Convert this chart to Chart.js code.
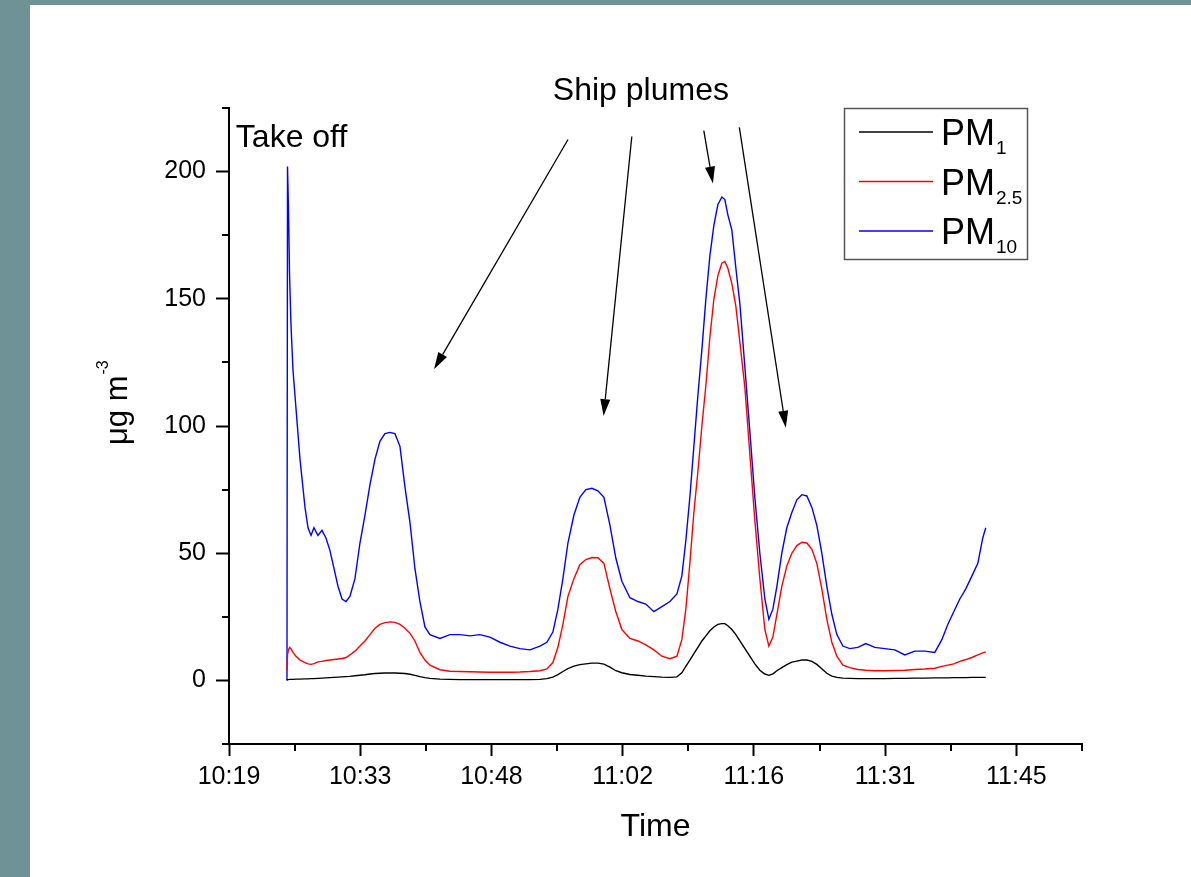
<!DOCTYPE html>
<html>
<head>
<meta charset="utf-8">
<script src="https://cdn.jsdelivr.net/npm/chart.js@4"></script>
<style>
  html, body { margin: 0; padding: 0; background: #6f9296; overflow: hidden; }
  #wrap { position: absolute; left: 30px; top: 5px; width: 1161px; height: 872px; background: #fff; }
</style>
</head>
<body>
<div id="wrap"><canvas id="pmChart" width="1161" height="872"></canvas></div>
<script>
// time in minutes after 10:00
const minutes = [25.56, 25.62, 25.73, 25.84, 26.00, 26.22, 26.55, 26.99, 27.54, 27.87, 28.20, 28.52, 28.96, 29.40, 29.84, 30.28, 30.72, 31.16, 31.60, 32.04,
  32.47, 33.02, 33.57, 34.12, 34.67, 35.22, 35.76, 36.31, 36.86, 37.41, 37.96, 38.51, 39.06, 39.60, 40.15, 40.70, 41.25, 42.35, 43.44, 44.54,
  45.64, 46.73, 47.83, 48.93, 50.03, 51.12, 52.22, 53.32, 54.08, 54.74, 55.29, 55.84, 56.39, 57.05, 57.70, 58.36, 59.02, 59.68, 60.34, 61.00,
  61.65, 62.31, 63.19, 64.07, 64.94, 65.82, 66.70, 67.58, 68.35, 68.89, 69.33, 69.77, 70.21, 70.65, 71.09, 71.53, 71.97, 72.41, 72.84, 73.28,
  73.61, 73.94, 74.38, 74.82, 75.26, 75.81, 76.35, 76.90, 77.45, 78.00, 78.44, 78.88, 79.32, 79.86, 80.41, 80.96, 81.51, 82.06, 82.61, 83.16,
  83.70, 84.25, 84.80, 85.35, 85.90, 86.56, 87.32, 88.20, 89.08, 90.07, 91.16, 92.26, 93.36, 94.45, 95.55, 96.65, 97.42, 98.07, 98.73, 99.39,
  100.05, 100.71, 101.37, 101.91, 102.24];

const pm1 = [0, 0.3, 0.3, 0.4, 0.4, 0.4, 0.5, 0.5, 0.6, 0.6, 0.7, 0.7, 0.8, 0.9, 1.0, 1.1, 1.2, 1.3, 1.4, 1.5,
  1.6, 1.8, 2.0, 2.2, 2.5, 2.7, 2.8, 2.9, 2.9, 2.9, 2.8, 2.7, 2.4, 2.0, 1.5, 1.1, 0.8, 0.5, 0.4, 0.3,
  0.3, 0.3, 0.3, 0.3, 0.3, 0.3, 0.3, 0.4, 0.7, 1.3, 2.3, 3.5, 4.6, 5.6, 6.2, 6.5, 6.8, 6.8, 6.4, 5.2,
  3.8, 3.0, 2.3, 2.0, 1.7, 1.5, 1.3, 1.2, 1.4, 3.0, 5.5, 8, 10.5, 13, 15.5, 17.5, 19.5, 21, 22, 22.3,
  22.3, 21.5, 20, 18, 15.5, 12.5, 9.5, 6.5, 4, 2.5, 2.0, 2.6, 3.8, 5, 6.2, 7.2, 7.6, 8, 8, 7.5,
  6.3, 4.6, 2.8, 1.7, 1.2, 0.9, 0.8, 0.7, 0.7, 0.7, 0.7, 0.8, 0.8, 0.9, 0.9, 1.0, 1.0, 1.0, 1.1, 1.1,
  1.1, 1.2, 1.2, 1.2, 1.2];

const pm25 = [4, 10, 12, 13, 12.5, 11, 9.5, 8, 7, 6.5, 6.3, 6.6, 7.3, 7.5, 7.8, 8, 8.2, 8.4, 8.6, 9,
  10, 11.5, 13.5, 15.5, 18, 20.5, 22, 22.7, 23, 22.8, 22, 20.5, 18.5, 15.5, 11, 8, 6, 4.2, 3.6, 3.5,
  3.4, 3.3, 3.2, 3.2, 3.2, 3.3, 3.5, 3.8, 4.5, 7, 13, 22, 33, 40, 45.5, 47.5, 48.3, 48.2, 46, 36,
  27, 20, 16.5, 15.5, 14, 12, 9.5, 8.5, 9.5, 16, 28, 46, 66, 82, 100, 116, 135, 150, 159, 164,
  164.7, 162, 156, 147, 133, 115, 89, 63, 40, 20, 13.5, 17, 26, 37, 45, 50, 53, 54.3, 54, 51.5,
  46, 36, 24, 15, 9.5, 6, 5, 4.3, 4, 3.8, 3.8, 3.9, 4, 4.3, 4.5, 4.8, 5.5, 6, 6.5, 7.5,
  8.2, 9, 10, 10.8, 11.2];

const pm10 = [0, 202, 185, 160, 140, 122, 107, 87, 68, 60, 57, 60, 57, 59, 56, 51, 44, 37, 32, 31,
  33, 40, 54, 65, 77, 87, 94, 97, 97.5, 97, 92, 76, 62, 44, 31, 21, 18, 16.5, 18, 18,
  17.5, 18, 17, 15, 13.5, 12.5, 12, 13.5, 15, 19, 28, 40, 54, 65, 72, 75, 75.5, 74.5, 72, 61,
  48, 39, 32.5, 31, 30, 27, 29, 31, 34, 41, 55, 72, 92, 112, 130, 150, 167, 179, 187, 190,
  189, 183, 177, 162, 148, 123, 98, 72, 50, 32, 24, 28, 37, 50, 60, 66, 71, 73, 72.5, 68,
  61, 50, 37, 26, 18, 13.5, 12.5, 13, 14.5, 13, 12.5, 12, 10, 11.5, 11.5, 11, 16, 22, 27, 32,
  36, 41, 46, 56, 60];

const seriesNames = ['PM1', 'PM2.5', 'PM10'];
const seriesSubs = ['1', '2.5', '10'];
const seriesColors = ['#000000', '#ff0000', '#0000ff'];

const xTicks = [19.2, 33.6, 48, 62.4, 76.8, 91.2, 105.6];
const xTickLabels = ['10:19', '10:33', '10:48', '11:02', '11:16', '11:31', '11:45'];
const yTicks = [0, 50, 100, 150, 200];

// ship plume arrows: [fromX, fromY, toX, toY] in data units
const plumeArrows = [
  [56.4, 212.6, 41.7, 122.3],
  [63.4, 213.8, 60.3, 103.9],
  [71.3, 216.1, 72.3, 195.3],
  [75.2, 217.4, 80.3, 99.3]
];

const FONT = '"Liberation Sans", Arial, sans-serif';

function arrow(ctx, x0, y0, x1, y1) {
  const ang = Math.atan2(y1 - y0, x1 - x0);
  const len = 17, half = 5;
  const bx = x1 - len * Math.cos(ang), by = y1 - len * Math.sin(ang);
  ctx.beginPath();
  ctx.moveTo(x0, y0);
  ctx.lineTo(bx, by);
  ctx.stroke();
  ctx.beginPath();
  ctx.moveTo(x1, y1);
  ctx.lineTo(bx + half * Math.sin(ang), by - half * Math.cos(ang));
  ctx.lineTo(bx - half * Math.sin(ang), by + half * Math.cos(ang));
  ctx.closePath();
  ctx.fill();
}

const extras = {
  id: 'extras',
  afterDraw(chart) {
    const ctx = chart.ctx;
    const xs = chart.scales.x, ys = chart.scales.y;
    const area = chart.chartArea;
    ctx.save();

    // minor ticks
    ctx.strokeStyle = '#000';
    ctx.lineWidth = 2;
    ctx.beginPath();
    for (let v = xs.min + 7.2; v <= xs.max + 0.01; v += 14.4) {
      const px = Math.round(xs.getPixelForValue(v));
      ctx.moveTo(px, area.bottom);
      ctx.lineTo(px, area.bottom + 7);
    }
    for (let v = -25; v <= 225; v += 50) {
      const py = Math.round(ys.getPixelForValue(v));
      ctx.moveTo(area.left, py);
      ctx.lineTo(area.left - 7, py);
    }
    ctx.stroke();

    // axis titles
    ctx.fillStyle = '#000';
    ctx.font = '32px ' + FONT;
    ctx.textAlign = 'center';
    ctx.textBaseline = 'alphabetic';
    ctx.fillText('Time', (area.left + area.right) / 2, area.bottom + 92);

    ctx.save();
    ctx.translate(area.left - 102, area.bottom - 299);
    ctx.rotate(-Math.PI / 2);
    ctx.textAlign = 'left';
    ctx.font = '31px ' + FONT;
    ctx.fillText('μg m', 0, 0);
    const w = ctx.measureText('μg m').width;
    ctx.font = '16px ' + FONT;
    ctx.fillText('-3', w + 1, -19);
    ctx.restore();

    // annotations
    ctx.font = '32px ' + FONT;
    ctx.textAlign = 'left';
    ctx.fillText('Take off', xs.getPixelForValue(19.95), ys.getPixelForValue(209.6));
    ctx.textAlign = 'center';
    ctx.fillText('Ship plumes', xs.getPixelForValue(64.4), ys.getPixelForValue(228));

    ctx.strokeStyle = '#000';
    ctx.fillStyle = '#000';
    ctx.lineWidth = 1.3;
    plumeArrows.forEach(a => {
      arrow(ctx, xs.getPixelForValue(a[0]), ys.getPixelForValue(a[1]),
        xs.getPixelForValue(a[2]), ys.getPixelForValue(a[3]));
    });

    // legend with subscripts
    const lx = area.right - 238, ly = area.top;
    ctx.strokeStyle = '#555';
    ctx.lineWidth = 1.5;
    ctx.strokeRect(lx + 0.5, ly + 0.5, 183, 151);
    chart.data.datasets.forEach((ds, i) => {
      const base = ly + 37 + i * 49.5;
      ctx.strokeStyle = ds.borderColor;
      ctx.lineWidth = 1.4;
      ctx.beginPath();
      ctx.moveTo(lx + 15, base - 13);
      ctx.lineTo(lx + 89, base - 13);
      ctx.stroke();
      ctx.fillStyle = '#000';
      ctx.textAlign = 'left';
      ctx.font = '36px ' + FONT;
      ctx.fillText('PM', lx + 97, base);
      const pw = ctx.measureText('PM').width;
      ctx.font = '19px ' + FONT;
      ctx.fillText(seriesSubs[i], lx + 97 + pw + 1, base + 9);
    });

    ctx.restore();
  }
};

new Chart(document.getElementById('pmChart'), {
  type: 'line',
  data: {
    datasets: [pm1, pm25, pm10].map((vals, i) => ({
      label: seriesNames[i],
      data: minutes.map((m, k) => ({ x: m, y: vals[k] })),
      borderColor: seriesColors[i],
      borderWidth: 1.4,
      pointRadius: 0,
      tension: 0,
      fill: false
    }))
  },
  options: {
    responsive: false,
    animation: false,
    devicePixelRatio: 1,
    layout: { padding: { top: 103, right: 109, left: 0, bottom: 0 } },
    plugins: {
      legend: { display: false },
      tooltip: { enabled: false }
    },
    scales: {
      x: {
        type: 'linear',
        min: 19.2,
        max: 112.8,
        afterBuildTicks: s => { s.ticks = xTicks.map(v => ({ value: v })); },
        afterFit: s => { s.height = 133; },
        grid: { drawOnChartArea: false, tickLength: 12, tickWidth: 2, tickColor: '#000', color: '#000' },
        border: { color: '#000', width: 2 },
        ticks: {
          font: { family: FONT, size: 25 },
          color: '#000',
          padding: 6,
          maxRotation: 0,
          autoSkip: false,
          callback: (v, i) => xTickLabels[i]
        }
      },
      y: {
        min: -25,
        max: 225,
        afterBuildTicks: s => { s.ticks = yTicks.map(v => ({ value: v })); },
        afterFit: s => { s.width = 199; },
        grid: { drawOnChartArea: false, tickLength: 13, tickWidth: 2, tickColor: '#000', color: '#000' },
        border: { color: '#000', width: 2 },
        ticks: {
          font: { family: FONT, size: 25 },
          color: '#000',
          padding: 10
        }
      }
    }
  },
  plugins: [extras]
});
</script>
</body>
</html>
